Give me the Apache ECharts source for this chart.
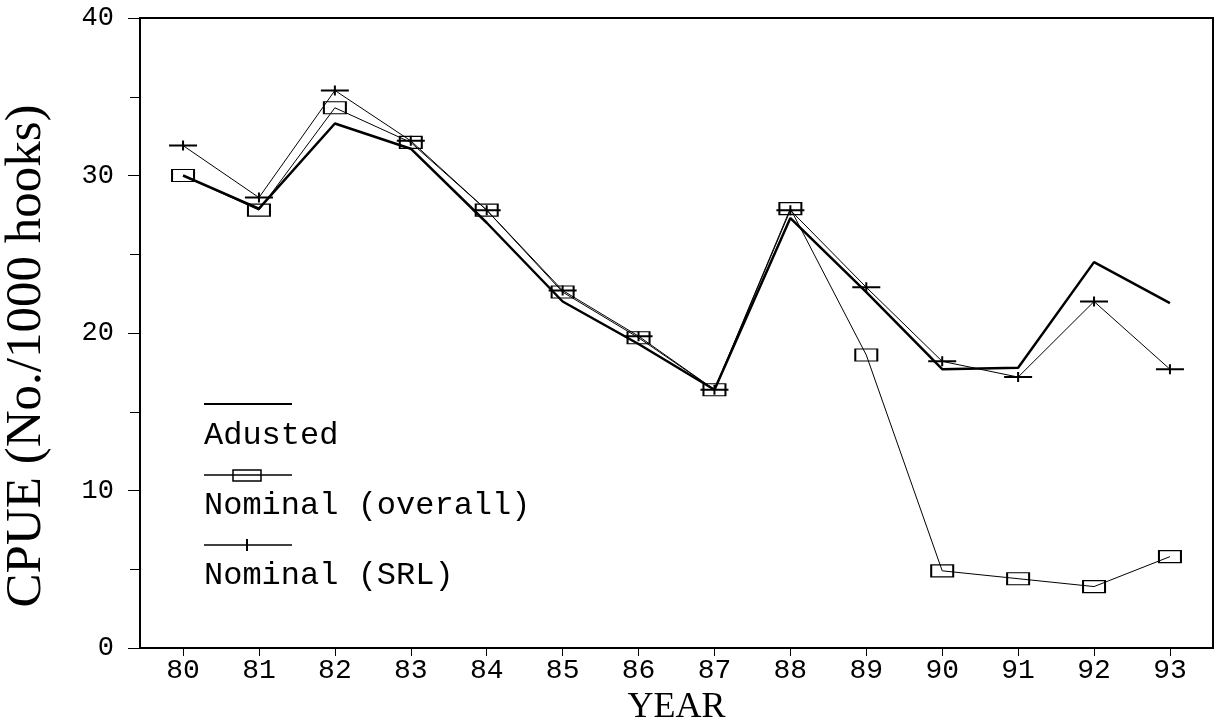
<!DOCTYPE html>
<html>
<head>
<meta charset="utf-8">
<script src="https://cdn.jsdelivr.net/npm/echarts@6/dist/echarts.min.js"></script>
<style>html,body{margin:0;padding:0;background:#fff}#c{width:1220px;height:722px}</style>
</head>
<body>
<div id="c"></div>
<script>
var years = [80, 81, 82, 83, 84, 85, 86, 87, 88, 89, 90, 91, 92, 93];
var adjusted = [30.0, 27.9, 33.3, 31.7, 27.0, 22.0, 19.3, 16.4, 27.3, 22.6, 17.7, 17.8, 24.5, 21.9];
var nominalOverall = [30.0, 27.8, 34.3, 32.1, 27.8, 22.6, 19.7, 16.4, 27.9, 18.6, 4.9, 4.4, 3.9, 5.8];
var nominalSRL = [31.9, 28.6, 35.4, 32.2, 27.8, 22.7, 19.8, 16.4, 27.8, 22.9, 18.2, 17.2, 22.0, 17.7];
var yTicks = [0, 10, 20, 30, 40];
var legendNames = ['Adusted', 'Nominal (overall)', 'Nominal (SRL)'];

function pairs(v) { return years.map(function (y, i) { return [y, v[i]]; }); }

var chart = echarts.init(document.getElementById('c'), null, {renderer: 'canvas'});
var monoFont = '"Liberation Mono", "DejaVu Sans Mono", monospace';
var serifFont = '"Liberation Serif", "DejaVu Serif", serif';
var plusPath = 'path://M0,4 h28 v2 h-28 z M13,0 h2 v10 h-2 z';

var lx = 204;
chart.setOption({
  animation: false,
  backgroundColor: '#fff',
  grid: {left: 140, right: 7, top: 18, bottom: 74, show: true, borderColor: '#000', borderWidth: 2, outerBoundsMode: 'none'},
  xAxis: {
    type: 'value', min: 79.433, max: 93.567,
    name: 'YEAR', nameLocation: 'middle', nameGap: 28,
    nameTextStyle: {fontFamily: serifFont, fontSize: 36, color: '#000'},
    axisLine: {show: true, lineStyle: {color: '#000', width: 2}},
    axisTick: {show: true, customValues: years, length: 8, lineStyle: {color: '#000', width: 1}},
    axisLabel: {customValues: years, formatter: function (v) { return String(Math.round(v)); }, fontFamily: monoFont, fontSize: 28, color: '#000', margin: 9},
    splitLine: {show: false}
  },
  yAxis: {
    type: 'value', min: 0, max: 40, interval: 10,
    name: 'CPUE (No./1000 hooks)', nameLocation: 'middle', nameGap: 88, nameRotate: 90,
    nameTextStyle: {fontFamily: serifFont, fontSize: 51, color: '#000', padding: [0, 46, 0, 0]},
    axisLine: {show: true, lineStyle: {color: '#000', width: 2}},
    axisTick: {show: true, length: 12, lineStyle: {color: '#000', width: 1}},
    minorTick: {show: true, splitNumber: 2, length: 10, lineStyle: {color: '#000', width: 1}},
    axisLabel: {fontFamily: monoFont, fontSize: 27, color: '#000', margin: 26,
      formatter: function (v) { return yTicks.indexOf(v) >= 0 ? String(v) : ''; }},
    splitLine: {show: false}
  },
  series: [
    {name: legendNames[1], type: 'line', data: pairs(nominalOverall), symbol: 'rect', symbolSize: [22, 12],
     lineStyle: {color: '#000', width: 1}, itemStyle: {color: 'rgba(0,0,0,0)', borderColor: '#000', borderWidth: 1.5}, z: 3},
    {name: legendNames[2], type: 'line', data: pairs(nominalSRL), symbol: plusPath, symbolSize: [28, 10], symbolKeepAspect: false,
     lineStyle: {color: '#000', width: 1}, itemStyle: {color: '#000'}, z: 3},
    {name: legendNames[0], type: 'line', data: pairs(adjusted), symbol: 'none',
     lineStyle: {color: '#000', width: 2.5}, z: 4}
  ],
  graphic: [
    {type: 'line', shape: {x1: lx, y1: 404, x2: lx + 88, y2: 404}, style: {stroke: '#000', lineWidth: 2}},
    {type: 'text', left: lx, top: 420, style: {text: legendNames[0], fontFamily: monoFont, fontSize: 32, fill: '#000'}},
    {type: 'line', shape: {x1: lx, y1: 475, x2: lx + 88, y2: 475}, style: {stroke: '#000', lineWidth: 1.5}},
    {type: 'rect', shape: {x: lx + 29, y: 470, width: 28, height: 11}, style: {stroke: '#000', fill: 'none', lineWidth: 1.5}},
    {type: 'text', left: lx, top: 490, style: {text: legendNames[1], fontFamily: monoFont, fontSize: 32, fill: '#000'}},
    {type: 'line', shape: {x1: lx, y1: 545, x2: lx + 88, y2: 545}, style: {stroke: '#000', lineWidth: 1.5}},
    {type: 'line', shape: {x1: lx + 43, y1: 539, x2: lx + 43, y2: 551}, style: {stroke: '#000', lineWidth: 2}},
    {type: 'text', left: lx, top: 560, style: {text: legendNames[2], fontFamily: monoFont, fontSize: 32, fill: '#000'}}
  ]
});
</script>
</body>
</html>
